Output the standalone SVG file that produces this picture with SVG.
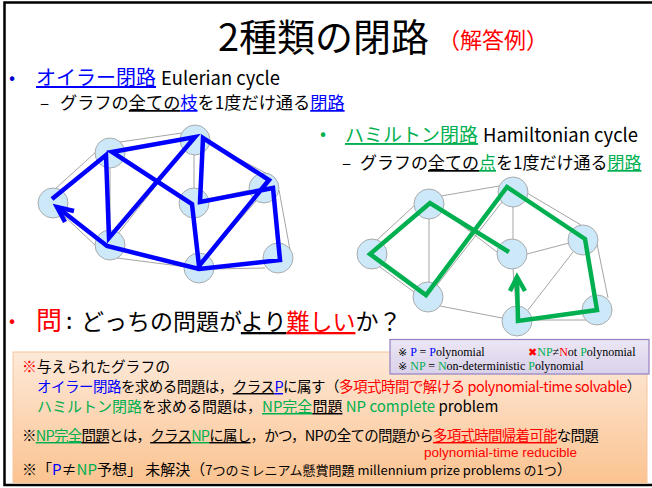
<svg xmlns="http://www.w3.org/2000/svg" width="652" height="488" viewBox="0 0 652 488">
<defs>
<linearGradient id="og" x1="0" y1="0" x2="0" y2="1">
<stop offset="0" stop-color="#fde9d9"/>
<stop offset="1" stop-color="#fbc390"/>
</linearGradient>
<linearGradient id="lg" x1="0" y1="0" x2="0" y2="1">
<stop offset="0" stop-color="#ebe6f4"/>
<stop offset="1" stop-color="#d9d1ea"/>
</linearGradient>
<style>
text{font-family:"Noto Sans CJK JP","Noto Sans",sans-serif;fill:#000}
.ser{font-family:"Liberation Serif","DejaVu Serif",serif;font-size:12px}
.mk{font-family:"DejaVu Sans","Noto Sans CJK JP",sans-serif;font-size:11px}
.lat{font-family:"Liberation Sans",Arial,sans-serif}
.u{text-decoration:underline}
.b{fill:#0000ff}
.g{fill:#00b050}
.r{fill:#ff0000}
.edge{stroke:#9a9a9a;stroke-width:0.9;fill:none}
.node{fill:#cde9f9;stroke:#a3a3a3;stroke-width:0.9}
.bp{stroke:#0000ff;stroke-width:4.5;fill:none;stroke-linejoin:miter;stroke-miterlimit:3}
.gp{stroke:#00b050;stroke-width:4.5;fill:none;stroke-linejoin:miter;stroke-miterlimit:3}
</style>
</defs>
<rect x="0" y="0" width="652" height="488" fill="#fff"/>
<rect x="4.5" y="2.5" width="700" height="482.5" fill="none" stroke="#000" stroke-width="2.5"/>

<g id="title">
<text x="218" y="51" font-size="38">2種類の閉路</text>
<text x="438" y="48" font-size="22" class="r">（解答例）</text>
</g>

<g id="heading-euler">
<text x="9" y="84" font-size="18" style="fill:#0000cc">•</text>
<text x="36" y="85" font-size="20"><tspan class="b u">オイラー閉路</tspan></text>
<text x="161" y="85" font-size="19" textLength="119" lengthAdjust="spacingAndGlyphs">Eulerian cycle</text>
<text x="40" y="109" font-size="17">–</text>
<text x="60" y="109" font-size="17.2">グラフの<tspan class="u">全ての</tspan><tspan class="b u">枝</tspan>を1度だけ通る<tspan class="b u">閉路</tspan></text>
</g>

<g id="heading-hamilton">
<text x="320" y="140" font-size="18" class="g">•</text>
<text x="345" y="142" font-size="19"><tspan class="g u">ハミルトン閉路</tspan></text>
<text x="483" y="142" font-size="19" textLength="155" lengthAdjust="spacingAndGlyphs">Hamiltonian cycle</text>
<text x="342" y="169" font-size="17">–</text>
<text x="360" y="169" font-size="17">グラフの<tspan class="u">全ての</tspan><tspan class="g u">点</tspan>を1度だけ通る<tspan class="g u">閉路</tspan></text>
</g>

<g id="edges-grey">
<path class="edge" d="M55 189L97 151M63 215L96 246M120 142L182 133M209 143L275 178M279 190L290 250M213 269L265 268M117 258L187 267M194 155L194 188M120 158L181 199M117 235L185 149M110 168L110 230M208 199L250 190M195 218L198 253M208 256L256 201"/>
<path class="edge" d="M376 241L416 204M441 196L499 186M429 219L429 282M443 211L497 252M380 267L414 292M440 306L502 318M437 285L502 202M513 207L513 239M527 193L581 225M527 254L569 243M597 244L608 298M531 320L586 320M528 310L573 252M513 269L516 306"/>
</g>

<g id="node-A"><circle class="node" cx="53" cy="203" r="15"/></g>
<g id="node-B"><circle class="node" cx="110" cy="153" r="15"/></g>
<g id="node-C"><circle class="node" cx="195" cy="140" r="15"/></g>
<g id="node-D"><circle class="node" cx="194" cy="203" r="15"/></g>
<g id="node-E"><circle class="node" cx="264" cy="188" r="15"/></g>
<g id="node-F"><circle class="node" cx="110" cy="245" r="15"/></g>
<g id="node-G"><circle class="node" cx="199" cy="268" r="15"/></g>
<g id="node-H"><circle class="node" cx="278" cy="258" r="15"/></g>

<g id="node-P"><circle class="node" cx="429" cy="204" r="15"/></g>
<g id="node-Q"><circle class="node" cx="513" cy="192" r="15"/></g>
<g id="node-R"><circle class="node" cx="372" cy="254" r="15"/></g>
<g id="node-S"><circle class="node" cx="512" cy="254" r="15"/></g>
<g id="node-T"><circle class="node" cx="583" cy="240" r="15"/></g>
<g id="node-U"><circle class="node" cx="428" cy="297" r="15"/></g>
<g id="node-V"><circle class="node" cx="517" cy="321" r="15"/></g>
<g id="node-W"><circle class="node" cx="597" cy="310" r="15"/></g>

<g id="connectors">
<polyline class="bp" points="52,199 106,155 109,238 195,137 112,152 192,204 199,266 269,180 203,138 200,202 273,188 280,260 199,269 107,246 57,207"/>
<polyline class="bp" points="74,211 57,207 65,222"/>
<polyline class="gp" points="509,252 430,203 370,254 426,295 507,187 585,239 597,310 518,321 517,278"/>
<polyline class="gp" points="510,291 517,277 525,291"/>
</g>

<g id="question">
<text x="9" y="327" font-size="18" class="r">•</text>
<text x="36" y="330" font-size="26" class="r">問</text>
<text x="66" y="329" font-size="23">:</text>
<text x="81" y="330" font-size="23">どっちの問題が<tspan class="u">より</tspan><tspan class="r u">難しい</tspan>か？</text>
</g>

<g id="note-box">
<rect x="13" y="352" width="634" height="131" fill="url(#og)" stroke="#f7c59d" stroke-width="1"/>
<text x="22" y="372" font-size="14.8"><tspan class="r">※</tspan>与えられたグラフの</text>
<text x="37" y="392" font-size="14.5" letter-spacing="-0.52"><tspan class="b">オイラー閉路</tspan>を求める問題は，<tspan class="u">クラス</tspan><tspan class="b u">P</tspan>に属す（<tspan class="r">多項式時間で解ける polynomial-time solvable</tspan>）</text>
<text x="37" y="412" font-size="15"><tspan class="g">ハミルトン閉路</tspan>を求める問題は，<tspan class="g u">NP完全</tspan><tspan class="u">問題</tspan><tspan class="g"> NP complete</tspan> problem</text>
<text x="22" y="441" font-size="14.5" letter-spacing="-0.75">※<tspan class="g u">NP完全</tspan><tspan class="u">問題</tspan>とは，<tspan class="u">クラス</tspan><tspan class="g u">NP</tspan><tspan class="u">に属し</tspan>，かつ，NPの全ての問題から<tspan class="r u">多項式時間帰着可能</tspan>な問題</text>
<text x="424" y="457" font-size="13.5" class="r lat">polynomial-time reducible</text>
<text x="22" y="475" font-size="15">※「<tspan class="b">P</tspan>≠<tspan class="g">NP</tspan>予想」 未解決（<tspan font-size="13">7つのミレニアム懸賞問題 millennium prize problems の1つ</tspan>）</text>
</g>

<g id="legend">
<rect x="390" y="339.5" width="259" height="34.5" fill="url(#lg)" stroke="#9480bf" stroke-width="1.2"/>
<text class="ser" x="398" y="356"><tspan class="mk">※</tspan> <tspan class="b">P</tspan> = <tspan class="b">P</tspan>olynomial</text>
<text class="ser" x="528" y="356"><tspan class="r" style="font-family:'DejaVu Sans',sans-serif;font-size:11px">✖</tspan><tspan class="g">NP</tspan>≠<tspan class="r">N</tspan>ot <tspan class="g">P</tspan>olynomial</text>
<text class="ser" x="398" y="370"><tspan class="mk">※</tspan> <tspan class="g">NP</tspan> = <tspan class="g">N</tspan>on-deterministic <tspan class="g">P</tspan>olynomial</text>
</g>
</svg>
